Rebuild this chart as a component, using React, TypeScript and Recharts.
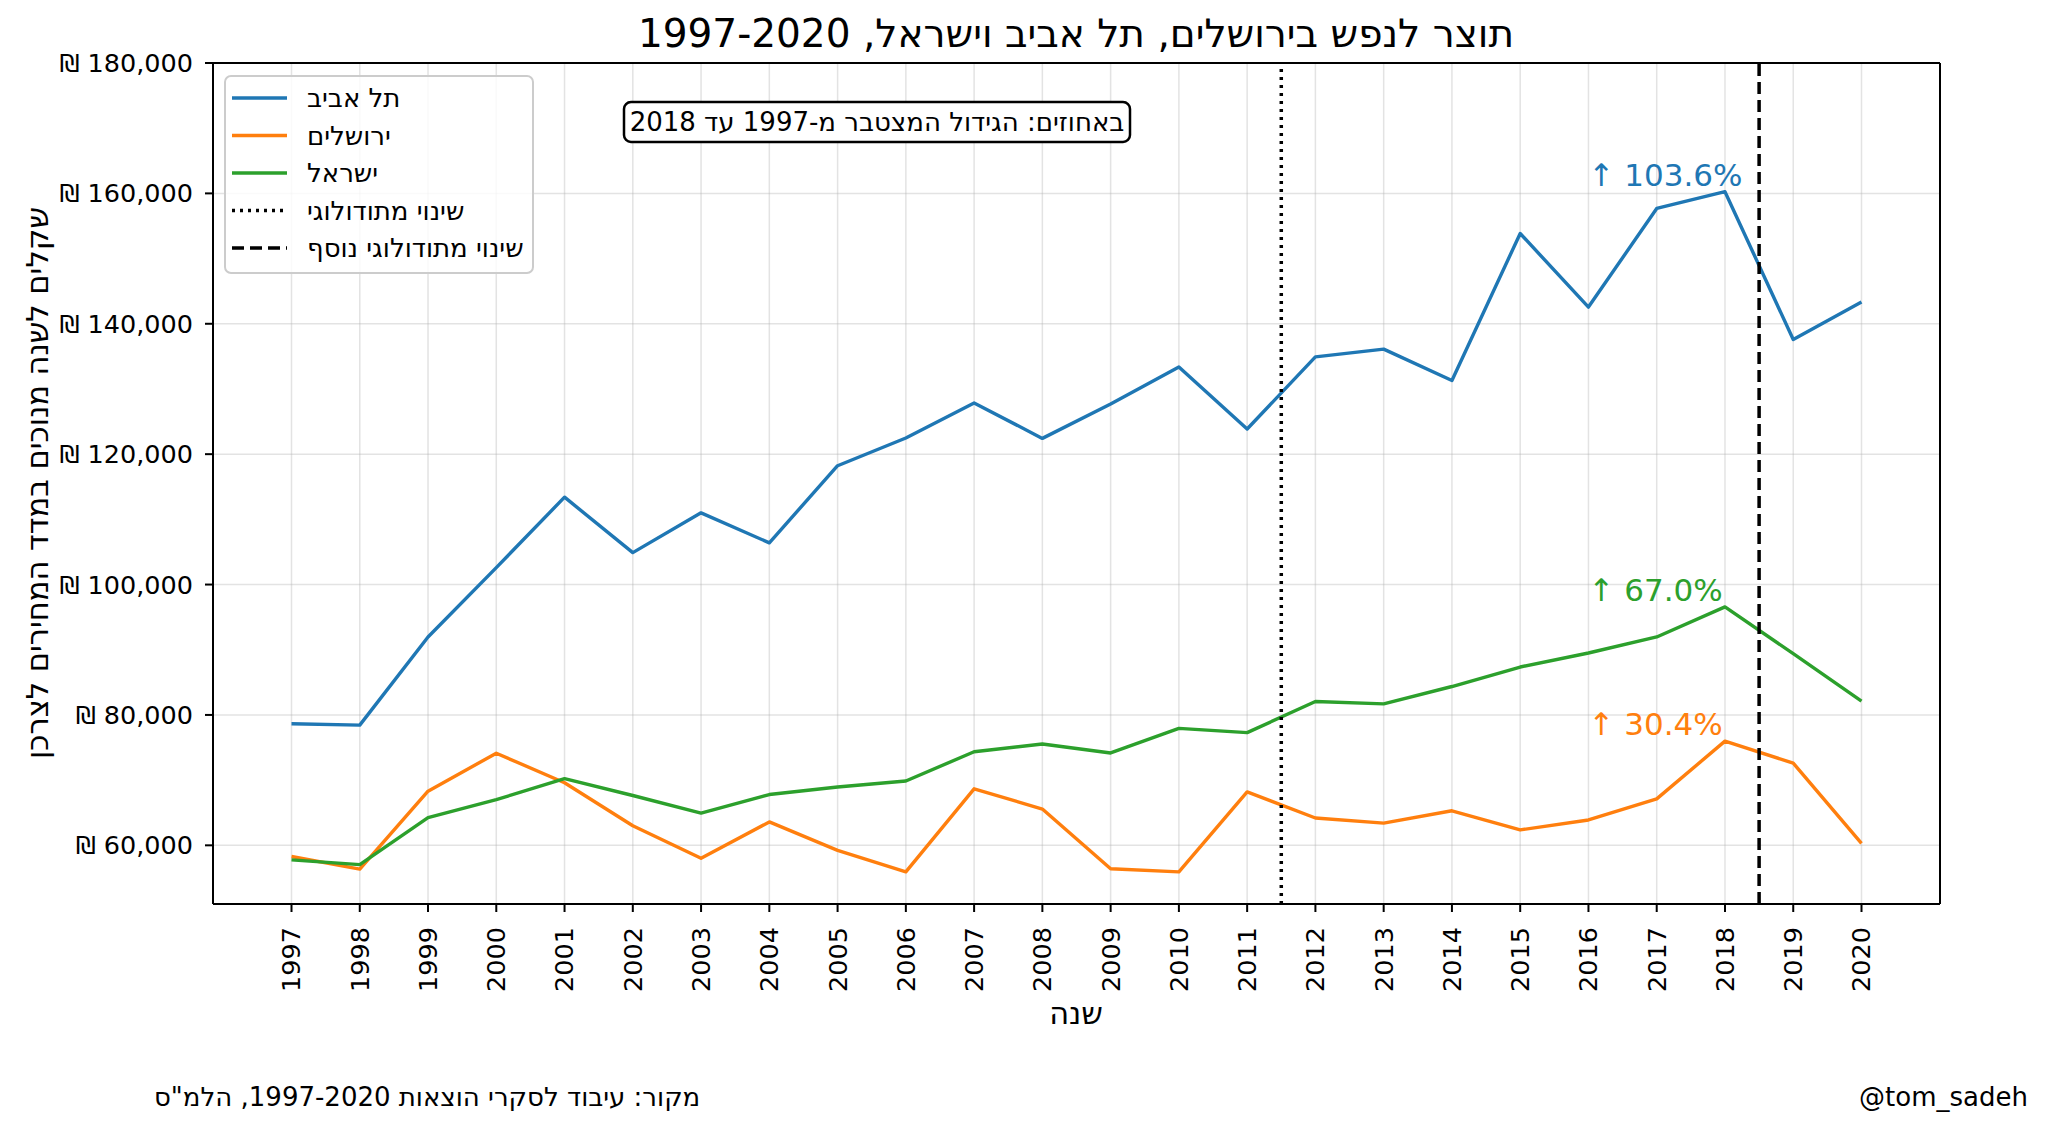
import { LineChart, Line, XAxis, YAxis, CartesianGrid, ReferenceLine, ReferenceDot } from "recharts";

const years = [
  1997, 1998, 1999, 2000, 2001, 2002, 2003, 2004, 2005, 2006, 2007, 2008,
  2009, 2010, 2011, 2012, 2013, 2014, 2015, 2016, 2017, 2018, 2019, 2020,
];

const telAviv = [
  78650, 78440, 91950, 102600, 113400, 104900, 111000, 106400, 118230, 122480, 127860, 122420,
  127680, 133360, 123860, 134920, 136110, 131300, 153850, 142560, 157690, 160260, 137590, 143330,
];

const jerusalem = [
  58290, 56360, 68300, 74130, 69600, 63000, 58030, 63590, 59220, 55930, 68670, 65560,
  56410, 55930, 68190, 64190, 63410, 65300, 62360, 63890, 67120, 75980, 72600, 60310,
];

const israel = [
  57770, 57040, 64260, 67010, 70230, 67640, 64940, 67790, 68940, 69870, 74350, 75550,
  74170, 77940, 77280, 82060, 81700, 84360, 87350, 89500, 91960, 96570, 89400, 82130,
];

const yTicks = [60000, 80000, 100000, 120000, 140000, 160000, 180000];
const seriesNames = ["תל אביב", "ירושלים", "ישראל"];
const growthLabels = ["↑ 103.6%", "↑ 30.4%", "↑ 67.0%"];
const methodChanges = [2011.5, 2018.5];
const methodNames = ["שינוי מתודולוגי", "שינוי מתודולוגי נוסף"];

const colors = ["#1f77b4", "#ff7f0e", "#2ca02c"];
const FONT = "DejaVu Sans";
const X_DOMAIN = [1995.85, 2021.15];
const Y_DOMAIN = [51000, 180000];

const data = years.map((year, i) => ({
  year,
  tlv: telAviv[i],
  jlm: jerusalem[i],
  isr: israel[i],
}));

const seriesKeys = ["tlv", "jlm", "isr"];
const seriesValues = [telAviv, jerusalem, israel];
const peakIndex = years.indexOf(2018);

const YearTick = ({ x, y, payload }: any) => (
  <text
    x={x}
    y={y}
    transform={`rotate(-90 ${x} ${y})`}
    textAnchor="end"
    dy="0.35em"
    fontSize={25.5}
    fontFamily={FONT}
    fill="#000"
  >
    {payload.value}
  </text>
);

const PctLabel = ({ viewBox, text, color }: any) => (
  <text
    x={viewBox.x}
    y={viewBox.y - 6}
    fontSize={31}
    fontFamily={FONT}
    fill={color}
  >
    {text}
  </text>
);

const Overlay = () => {
  const legendRows = [
    ...seriesNames.map((name, i) => ({ name, color: colors[i], dash: undefined as string | undefined })),
    { name: methodNames[0], color: "#000", dash: "3 5" },
    { name: methodNames[1], color: "#000", dash: "12 6" },
  ];
  return (
    <svg
      width={2048}
      height={1131}
      style={{ position: "absolute", left: 0, top: 0, pointerEvents: "none" }}
      fontFamily={FONT}
    >
      <text x={1076} y={47} textAnchor="middle" fontSize={39} fill="#000">
        תוצר לנפש בירושלים, תל אביב וישראל, 1997-2020
      </text>
      <text
        x={37}
        y={483}
        transform="rotate(-90 37 483)"
        textAnchor="middle"
        dominantBaseline="central"
        fontSize={30.5}
        fill="#000"
      >
        שקלים לשנה מנוכים במדד המחירים לצרכן
      </text>
      <text x={1076} y={1013} textAnchor="middle" dominantBaseline="central" fontSize={30.5} fill="#000">
        שנה
      </text>
      <text x={154} y={1106} fontSize={26} fill="#000">
        מקור: עיבוד לסקרי הוצאות 1997-2020, הלמ"ס
      </text>
      <text x={2028} y={1106} textAnchor="end" fontSize={26} fill="#000">
        @tom_sadeh
      </text>

      <rect x={624} y={102} width={506} height={40} rx={7} fill="#fff" stroke="#000" strokeWidth={2.5} />
      <text x={877} y={122} textAnchor="middle" dominantBaseline="central" fontSize={26} fill="#000">
        באחוזים: הגידול המצטבר מ-1997 עד 2018
      </text>

      <rect x={225} y={76} width={308} height={197} rx={6} fill="#fff" fillOpacity={0.8} stroke="#cccccc" strokeWidth={2} />
      {legendRows.map((row, i) => {
        const y = 98 + i * 37.5;
        return (
          <g key={row.name + i}>
            <line x1={232} x2={287} y1={y} y2={y} stroke={row.color} strokeWidth={3.4} strokeDasharray={row.dash} />
            <text x={307} y={y} dominantBaseline="central" fontSize={26} fill="#000">
              {row.name}
            </text>
          </g>
        );
      })}
    </svg>
  );
};

export default function App() {
  return (
    <div style={{ position: "absolute", left: 0, top: 0, width: 2048, height: 1131, background: "#fff" }}>
      <LineChart
        width={2048}
        height={1131}
        data={data}
        margin={{ top: 63, right: 108, bottom: 0, left: 0 }}
      >
        <CartesianGrid stroke="#b0b0b0" strokeOpacity={0.35} strokeWidth={1.5} />
        <XAxis
          dataKey="year"
          type="number"
          domain={X_DOMAIN}
          ticks={years}
          interval={0}
          height={227}
          tickSize={8}
          tickMargin={15}
          axisLine={{ stroke: "#000", strokeWidth: 2 }}
          tickLine={{ stroke: "#000", strokeWidth: 2 }}
          tick={<YearTick />}
          allowDataOverflow
        />
        <YAxis
          type="number"
          domain={Y_DOMAIN}
          ticks={yTicks}
          interval={0}
          width={213}
          tickSize={8}
          tickMargin={12}
          axisLine={{ stroke: "#000", strokeWidth: 2 }}
          tickLine={{ stroke: "#000", strokeWidth: 2 }}
          tick={{ fontSize: 25.5, fill: "#000", fontFamily: FONT }}
          tickFormatter={(v: number) => `₪ ${v.toLocaleString("en-US")}`}
          allowDataOverflow
        />
        <ReferenceLine y={Y_DOMAIN[1]} stroke="#000" strokeWidth={2} />
        <ReferenceLine x={X_DOMAIN[1]} stroke="#000" strokeWidth={2} />
        {seriesKeys.map((key, i) => (
          <Line
            key={key}
            type="linear"
            dataKey={key}
            stroke={colors[i]}
            strokeWidth={3.4}
            strokeLinejoin="round"
            dot={false}
            activeDot={false}
            isAnimationActive={false}
          />
        ))}
        <ReferenceLine x={methodChanges[0]} stroke="#000" strokeWidth={3.5} strokeDasharray="3 5" />
        <ReferenceLine x={methodChanges[1]} stroke="#000" strokeWidth={3.5} strokeDasharray="12 6" />
        {seriesValues.map((vals, i) => (
          <ReferenceDot
            key={"pct" + i}
            x={2016}
            y={vals[peakIndex]}
            r={0}
            fill="none"
            stroke="none"
            label={<PctLabel text={growthLabels[i]} color={colors[i]} />}
          />
        ))}
      </LineChart>
      <Overlay />
    </div>
  );
}
